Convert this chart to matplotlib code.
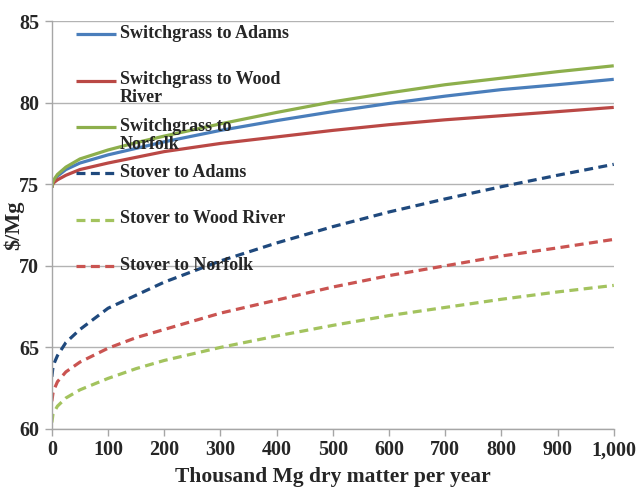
import matplotlib
matplotlib.use('Agg')
import matplotlib.pyplot as plt

plt.rcParams['font.family'] = ['Liberation Serif', 'DejaVu Serif']
plt.rcParams['font.weight'] = 'bold'

# thousand Mg dry matter per year
x = [0, 2, 5, 10, 25, 50, 100, 150, 200, 300, 400, 500, 600, 700, 800, 900, 1000]

sg_adams = [74.8, 75.1, 75.3, 75.5, 75.9, 76.3, 76.8, 77.2, 77.6, 78.3, 78.9, 79.45, 79.95, 80.4, 80.8, 81.1, 81.43]
sg_wood = [74.8, 75.04, 75.14, 75.27, 75.55, 75.9, 76.3, 76.65, 77.0, 77.5, 77.9, 78.3, 78.65, 78.95, 79.2, 79.45, 79.71]
sg_norfolk = [74.8, 75.15, 75.35, 75.6, 76.05, 76.55, 77.1, 77.55, 77.95, 78.7, 79.4, 80.05, 80.6, 81.1, 81.5, 81.9, 82.26]
st_adams = [63.2, 63.8, 64.1, 64.5, 65.3, 66.1, 67.4, 68.2, 69.0, 70.3, 71.4, 72.4, 73.3, 74.1, 74.85, 75.55, 76.22]
st_wood = [60.4, 60.9, 61.1, 61.4, 61.9, 62.4, 63.1, 63.7, 64.2, 65.0, 65.7, 66.35, 66.95, 67.45, 67.95, 68.4, 68.8]
st_norfolk = [61.7, 62.2, 62.5, 62.9, 63.5, 64.1, 64.95, 65.6, 66.1, 67.1, 67.9, 68.7, 69.4, 70.0, 70.6, 71.1, 71.62]

names = ['Switchgrass to Adams', 'Switchgrass to Wood\nRiver', 'Switchgrass to\nNorfolk',
         'Stover to Adams', 'Stover to Wood River', 'Stover to Norfolk']
series = [sg_adams, sg_wood, sg_norfolk, st_adams, st_wood, st_norfolk]
colors = ['#4A7EBB', '#BA4845', '#8DAF4C', '#1F497D', '#A3C35E', '#CA5451']
styles = ['-', '-', '-', (0, (2.8, 1.7)), (0, (2.8, 1.7)), (0, (2.8, 1.7))]

fig = plt.figure(figsize=(6.4, 4.9), dpi=100)
ax = fig.add_axes([0.081, 0.1245, 0.878, 0.8325])

for ys, c, ls in zip(series, colors, styles):
    ax.plot(x, ys, color=c, linestyle=ls, linewidth=2.3, solid_capstyle='butt')

ax.set_xlim(0, 1000)
ax.set_ylim(60, 85)
ax.set_xticks(range(0, 1001, 100))
ax.set_xticklabels(['0', '100', '200', '300', '400', '500', '600', '700', '800', '900', '1,000'])
ax.set_yticks([60, 65, 70, 75, 80, 85])
ax.yaxis.grid(True, color='#b3b3b3', linewidth=1.0)
ax.set_axisbelow(True)
for s in ['top', 'right']:
    ax.spines[s].set_visible(False)
for s in ['left', 'bottom']:
    ax.spines[s].set_color('#a6a6a6')
    ax.spines[s].set_linewidth(1.0)
ax.tick_params(axis='both', colors='#a6a6a6', labelcolor='#262626', labelsize=14.5,
               length=5, width=1.0, direction='out')
ax.tick_params(axis='x', pad=3)
ax.tick_params(axis='y', pad=4)
ax.set_xlabel('Thousand Mg dry matter per year', fontsize=15.5, fontweight='bold', color='#262626')
ax.set_ylabel(r'\$/Mg', fontsize=16, fontweight='bold', color='#262626')
ax.xaxis.set_label_coords(0.5, -0.092)
ax.yaxis.set_label_coords(-0.05, 0.5)

# legend drawn Excel-style: fixed row height, text overflows downward
for i, (name, c, ls) in enumerate(zip(names, colors, styles)):
    yy = 0.968 - i * 0.1137
    ax.plot([0.043, 0.114], [yy, yy], transform=ax.transAxes, color=c, linestyle=ls,
            linewidth=2.3, solid_capstyle='butt', clip_on=False)
    ax.text(0.121, yy + 0.023, name, transform=ax.transAxes, fontsize=13, fontweight='bold',
            color='#262626', va='top', ha='left', linespacing=1.1)

fig.savefig('out.png', dpi=100)
